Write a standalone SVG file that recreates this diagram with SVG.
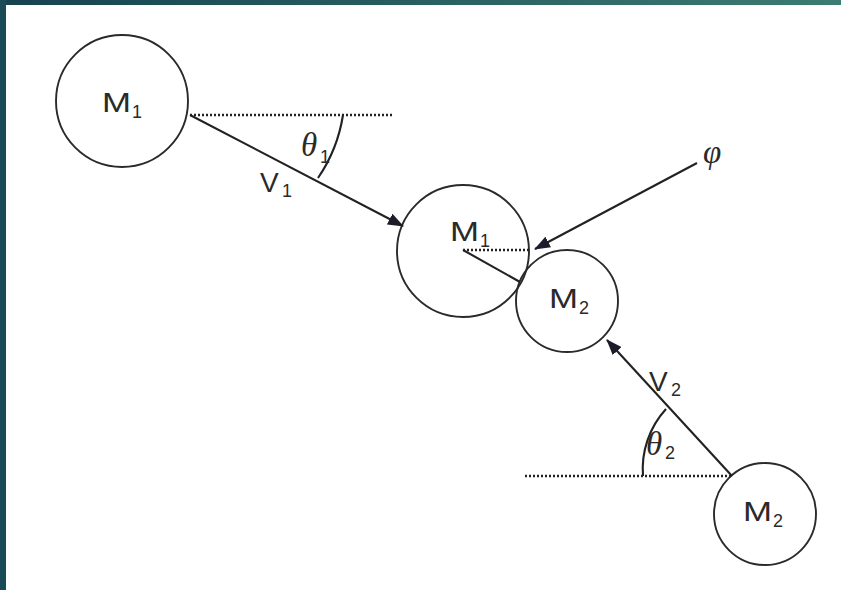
<svg xmlns="http://www.w3.org/2000/svg" width="841" height="590" viewBox="0 0 841 590">
<defs>
<linearGradient id="tb" x1="0" y1="0" x2="1" y2="0"><stop offset="0" stop-color="#15424f"/><stop offset="1" stop-color="#3c7c72"/></linearGradient>
<marker id="ah" viewBox="0 0 16 12" refX="15" refY="6" markerWidth="16" markerHeight="12" markerUnits="userSpaceOnUse" orient="auto"><path d="M0,0 L16,6 L0,12 Z" fill="#1c1c2a"/></marker>
</defs>
<style>
.c{fill:none;stroke:#2a2a2a;stroke-width:1.9}
.l{fill:none;stroke:#222;stroke-width:2.1}
.d{fill:none;stroke:#222;stroke-width:2.4;stroke-dasharray:2 2}
.t{font-family:"Liberation Sans",Arial,sans-serif;font-size:28px;fill:#2a2a2a}
.s{font-family:"Liberation Sans",Arial,sans-serif;font-style:normal;font-size:18px}
.g{font-family:"Liberation Serif","DejaVu Serif",serif;font-style:italic;font-size:33px;fill:#2a2a2a}
</style>
<rect width="841" height="590" fill="#fff"/>
<rect x="0" y="0" width="841" height="5" fill="url(#tb)"/>
<rect x="0" y="0" width="6" height="590" fill="#1a4a56"/>
<g id="m1a"><circle class="c" cx="122" cy="101" r="66"/><text class="t" x="102" y="112" textLength="29" lengthAdjust="spacingAndGlyphs">M</text><text class="t s" x="132" y="118">1</text></g>
<g id="m1b"><circle class="c" cx="463" cy="251" r="66"/><text class="t" x="450" y="241" textLength="29" lengthAdjust="spacingAndGlyphs">M</text><text class="t s" x="480" y="247">1</text></g>
<g id="m2a"><circle class="c" cx="567" cy="301" r="51"/><text class="t" x="549" y="308" textLength="29" lengthAdjust="spacingAndGlyphs">M</text><text class="t s" x="579" y="314">2</text></g>
<g id="m2b"><circle class="c" cx="765" cy="514" r="51"/><text class="t" x="743" y="521" textLength="29" lengthAdjust="spacingAndGlyphs">M</text><text class="t s" x="773" y="527">2</text></g>
<g id="connectors">
<line class="d" x1="190" y1="115" x2="394" y2="115"/>
<line class="l" x1="190" y1="115" x2="403" y2="226" marker-end="url(#ah)"/>
<path class="l" d="M343,115 A153,153 0 0 1 318,178"/>
<line class="d" x1="463" y1="250" x2="531" y2="250"/>
<line class="l" x1="463" y1="250" x2="520" y2="282"/>
<line class="l" x1="697" y1="163" x2="535" y2="249" marker-end="url(#ah)"/>
<line class="d" x1="525" y1="476" x2="732" y2="476"/>
<line class="l" x1="732" y1="476" x2="607" y2="340" marker-end="url(#ah)"/>
<path class="l" d="M643,476 A89,89 0 0 1 666,409"/>
</g>
<g id="labels">
<text class="g" x="301" y="156">θ</text><text class="t s" x="320" y="163">1</text>
<text class="t" x="260" y="192">V</text><text class="t s" x="282" y="197">1</text>
<text class="g" x="703" y="163">φ</text>
<text class="t" x="649" y="391">V</text><text class="t s" x="671" y="396">2</text>
<text class="g" x="646" y="455">θ</text><text class="t s" x="665" y="459">2</text>
</g>
</svg>
